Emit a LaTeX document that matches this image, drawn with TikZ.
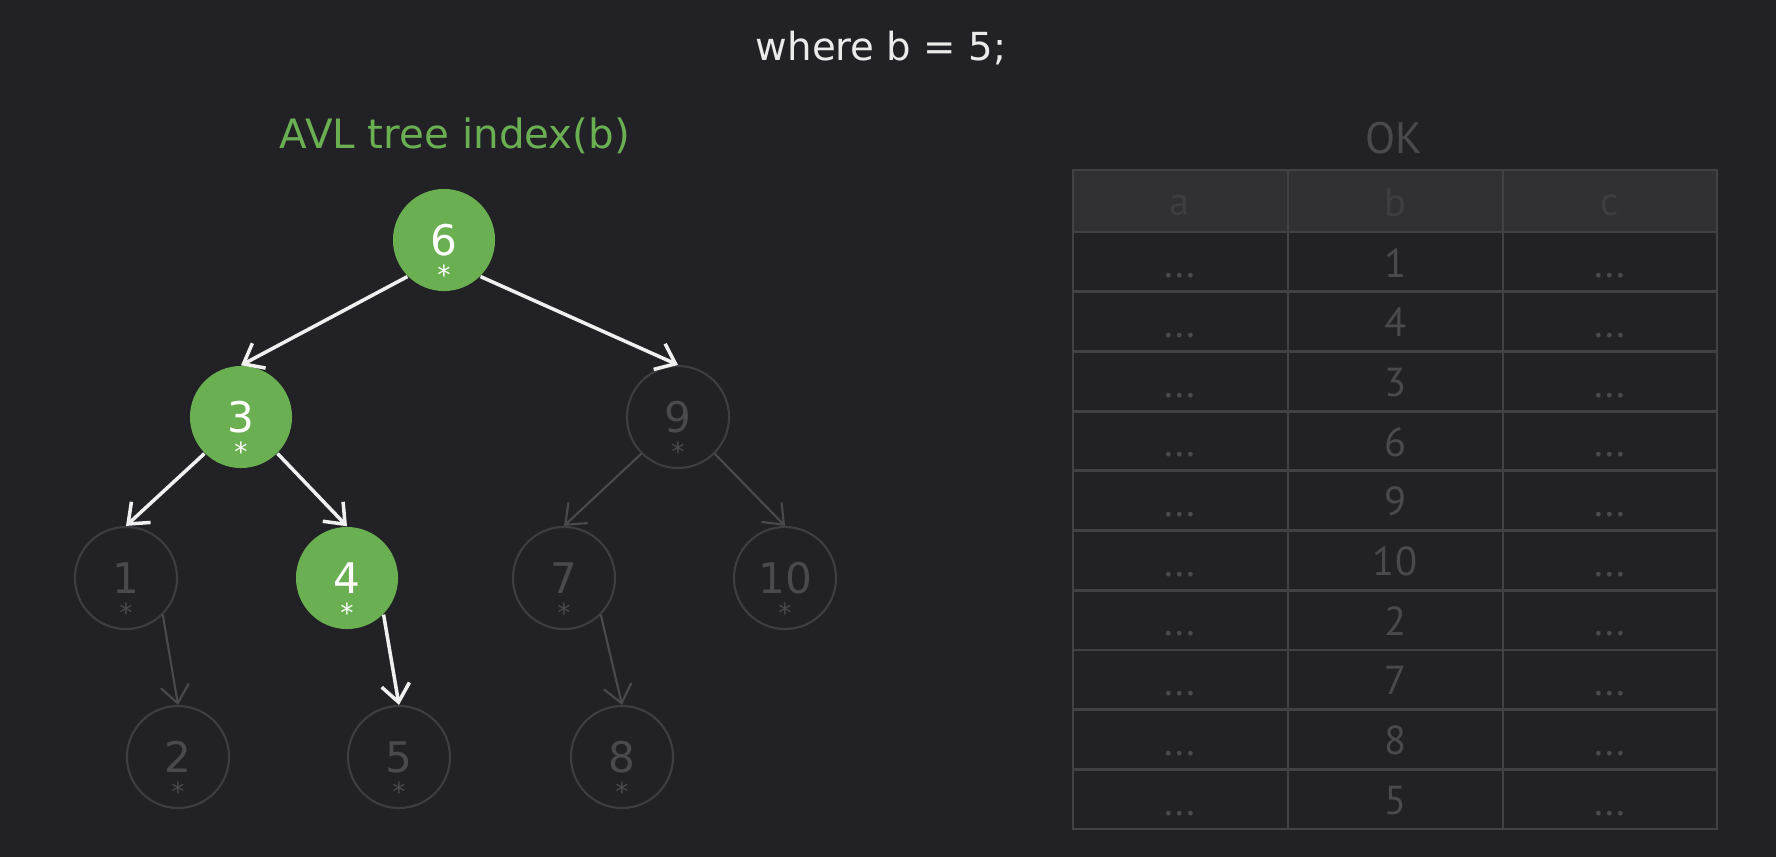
\documentclass[tikz,border=0pt]{standalone}
\usepackage{fontspec}
\setmainfont{DejaVu Sans}
\newfontfamily\tablefont{PT Sans}
\usetikzlibrary{arrows.meta}
\definecolor{bgdark}{RGB}{34,33,37}
\definecolor{avlgreen}{RGB}{106,175,82}
\definecolor{dimline}{RGB}{62,61,65}
\definecolor{dimtext}{RGB}{74,73,77}
\definecolor{gridline}{RGB}{66,65,69}
\definecolor{headfill}{RGB}{49,48,52}
\definecolor{hotline}{RGB}{240,240,240}
\begin{document}
\begin{tikzpicture}[x=0.01cm, y=-0.01cm,
  treenode/.style={circle, minimum size=1.02cm, inner sep=0pt, font=\fontsize{12}{12}\selectfont},
  starmark/.style={yshift=-0.35cm, inner sep=0pt, font=\fontsize{7.5}{7.5}\selectfont},
  hot/.style={treenode, fill=avlgreen, text=white, label={[starmark, text=white]center:*}},
  dim/.style={treenode, draw=dimline, line width=0.6pt, text=dimtext, label={[starmark, text=dimtext]center:*}},
  hotedge/.style={draw=hotline, line width=1pt, -{Straight Barb[length=5pt, width=8pt]}},
  dimedge/.style={draw=dimtext, line width=0.6pt, -{Straight Barb[length=5pt, width=8pt]}},
  celltext/.style={inner sep=0pt, text=dimtext, font=\tablefont\fontsize{11.5}{11.5}\selectfont}]

\def\tabL{1073}   % table left
\def\tabR{1717}   % table right
\def\colAB{1288}
\def\colBC{1503}
\def\headT{170}
\def\headB{232}
\def\rowh{59.7}

\fill[bgdark] (0,0) rectangle (1776,857);

% titles
\node[text=white!92!black, font=\fontsize{11}{11}\selectfont] (title) at (881,48) {where b = 5;};
\node[text=avlgreen, font=\fontsize{11.5}{11.5}\selectfont] (treetitle) at (455,136) {AVL tree index(b)};

% tree
\node[hot] (n6) at (444,240) {6};
\node[hot] (n3) at (241,417) {3};
\node[dim] (n9) at (678,417) {9};
\node[dim] (n1) at (126,578) {1};
\node[hot] (n4) at (347,578) {4};
\node[dim] (n7) at (564,578) {7};
\node[dim] (n10) at (785,578) {10};
\node[dim] (n2) at (178,757) {2};
\node[dim] (n5) at (399,757) {5};
\node[dim] (n8) at (622,757) {8};

\draw[hotedge] (n6.south west) -- (n3.north);
\draw[hotedge] (n6.south east) -- (n9.north);
\draw[hotedge] (n3.south west) -- (n1.north);
\draw[hotedge] (n3.south east) -- (n4.north);
\draw[hotedge] (n4.south east) -- (n5.north);
\draw[dimedge] (n1.south east) -- (n2.north);
\draw[dimedge] (n9.south west) -- (n7.north);
\draw[dimedge] (n9.south east) -- (n10.north);
\draw[dimedge] (n7.south east) -- (n8.north);

% table
\node[celltext, font=\tablefont\fontsize{12.5}{12.5}\selectfont] (ok) at (1394,138) {OK};
\fill[headfill] (\tabL,\headT) rectangle (\tabR,\headB);
\node[celltext, text=dimline] (ha) at (1180,205) {a};
\node[celltext, text=dimline] (hb) at (1395,203) {b};
\node[celltext, text=dimline] (hc) at (1610,205) {c};

\foreach \i/\val in {0/1, 1/4, 2/3, 3/6, 4/9, 5/10, 6/2, 7/7, 8/8, 9/5}
{
  \pgfmathsetmacro{\yy}{\headB+(\i+0.5)*\rowh}
  \node[celltext] (b\i) at (1395,\yy+1) {\val};
  \node[celltext] (a\i) at (1180,\yy+14) {...};
  \node[celltext] (c\i) at (1610,\yy+14) {...};
}

\foreach \i in {0,...,10}
  \draw[gridline, line width=0.8pt] (\tabL,\headB+\i*\rowh) -- (\tabR,\headB+\i*\rowh);
\draw[gridline, line width=0.8pt] (\tabL,\headT) rectangle (\tabR,\headB+10*\rowh);
\draw[gridline, line width=0.8pt] (\colAB,\headT) -- (\colAB,\headB+10*\rowh);
\draw[gridline, line width=0.8pt] (\colBC,\headT) -- (\colBC,\headB+10*\rowh);

\end{tikzpicture}
\end{document}
